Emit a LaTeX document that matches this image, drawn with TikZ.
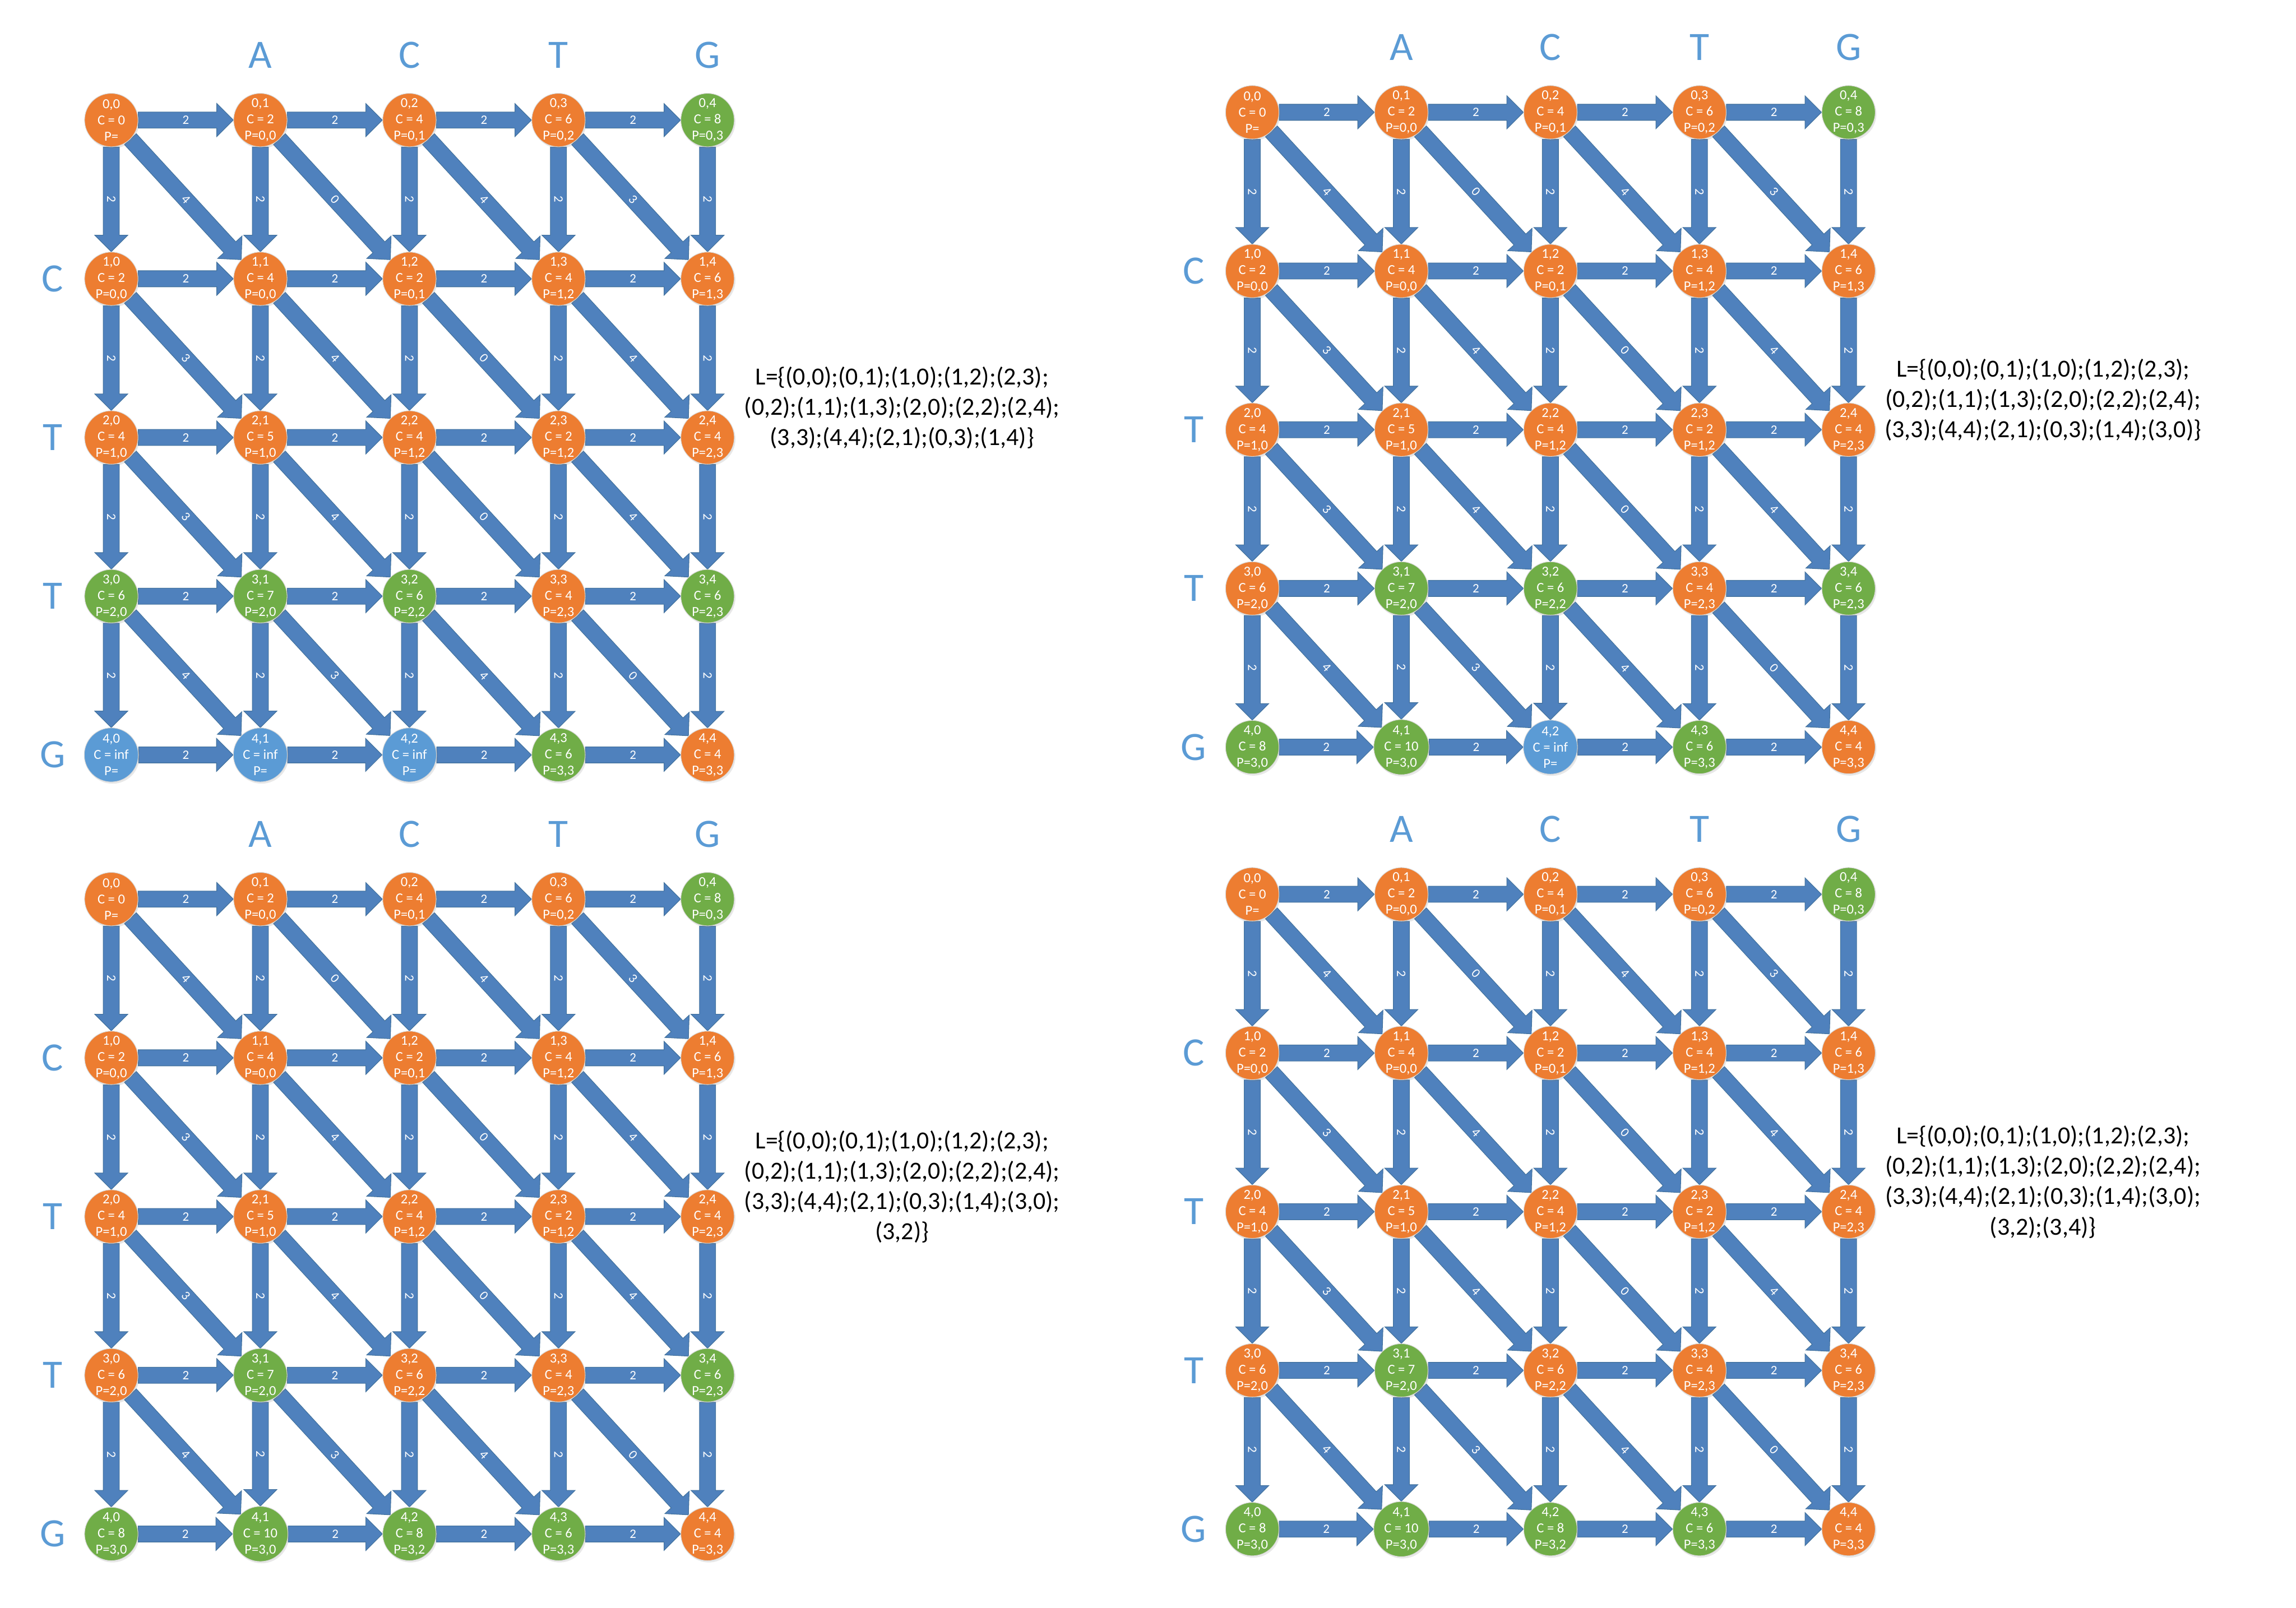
\documentclass[tikz,border=0pt]{standalone}
\usepackage{fontspec}
\setmainfont{Carlito}
\usetikzlibrary{calc,shadows}
\definecolor{colo}{HTML}{ED7D31}
\definecolor{colg}{HTML}{70AD47}
\definecolor{colb}{HTML}{5B9BD5}
\definecolor{arrowblue}{HTML}{4F81BD}
\definecolor{arrowedge}{HTML}{41719C}
\definecolor{letterblue}{HTML}{5B9BD5}
\pgfdeclarelayer{bg}
\pgfsetlayers{bg,main}
\tikzset{
  cell/.style={circle, minimum size=36.5pt, inner sep=0pt, text=white, align=center,
    font=\fontsize{9.4}{11.1}\selectfont, draw=black!15, line width=0.4pt,
    drop shadow={opacity=0.18, shadow xshift=0.8pt, shadow yshift=-1.2pt}},
  arrowbody/.style={fill=arrowblue, draw=arrowedge, line width=0.4pt},
  elabel/.style={text=white, inner sep=0pt, font=\fontsize{8.8}{10}\selectfont},
  seqletter/.style={text=letterblue, inner sep=0pt, font=\fontsize{27.5}{30}\selectfont},
  listtext/.style={text=black, align=center, inner sep=0pt, font=\fontsize{16.8}{20.7}\selectfont},
}
% block arrow from #1 to #2 with label #3
\newcommand\barrow[3]{%
  \path[arrowbody] let \p1=(#1), \p2=(#2),
      \n1={atan2(\y2-\y1,\x2-\x1)},
      \n2={veclen(\x2-\x1,\y2-\y1)-11.3} in
    ($(\p1)+(\n1+90:5.5)$) -- ($(\p1)+(\n1:\n2)+(\n1+90:5.5)$) --
    ($(\p1)+(\n1:\n2)+(\n1+90:11.3)$) -- (\p2) --
    ($(\p1)+(\n1:\n2)+(\n1-90:11.3)$) -- ($(\p1)+(\n1:\n2)+(\n1-90:5.5)$) --
    ($(\p1)+(\n1-90:5.5)$) -- cycle
    node[elabel, rotate=\n1] at ($(\p1)!0.5!(\p2)$) {#3};
}
% panel: #1 prefix, #2 x0, #3 y0 (downwards), #4 node list, #5 list text
\newcommand\panel[5]{%
  \foreach \ri/\rj/\rc/\rp/\rk in {#4} {%
    \node[cell, fill=col\rk] (#1-\ri-\rj) at ({#2+\rj*101.8},{-(#3+\ri*108.4)}) {\ri,\rj\\C = \rc\\P=\rp};
  }
  \foreach \sj/\sl in {1/A,2/C,3/T,4/G}
    \node[seqletter] (#1-top-\sj) at ({#2+\sj*101.8},{-(#3-44.3)}) {\sl};
  \foreach \si/\sl in {1/C,2/T,3/T,4/G}
    \node[seqletter] (#1-left-\si) at ({#2-40},{-(#3+\si*108.4)}) {\sl};
  \node[listtext] (#1-list) at ({#2+540},{-(#3+196.5)}) {#5};
  \begin{pgfonlayer}{bg}
    \foreach \hi in {0,...,4}
      \foreach \hj [count=\hjj from 1] in {0,...,3}
        {\barrow{#1-\hi-\hj.east}{#1-\hi-\hjj.west}{2}}
    \foreach \vi [count=\vii from 1] in {0,...,3}
      \foreach \vj in {0,...,4}
        {\barrow{#1-\vi-\vj.south}{#1-\vii-\vj.north}{2}}
    \foreach \di/\dj/\dw in {0/0/4,0/1/0,0/2/4,0/3/3,1/0/3,1/1/4,1/2/0,1/3/4,2/0/3,2/1/4,2/2/0,2/3/4,3/0/4,3/1/3,3/2/4,3/3/0}
      {\pgfmathtruncatemacro\dii{\di+1}\pgfmathtruncatemacro\djj{\dj+1}%
       \barrow{#1-\di-\dj.south east}{#1-\dii-\djj.north west}{\dw}}
  \end{pgfonlayer}
}
\begin{document}
\begin{tikzpicture}[x=1pt,y=1pt]
\begin{pgfonlayer}{bg}
\fill[white] (0,0) rectangle (1568,-1098);
\end{pgfonlayer}
\useasboundingbox (0,0) rectangle (1568,-1098);

\panel{a}{76}{82}{0/0/0/{}/o,0/1/2/{0,0}/o,0/2/4/{0,1}/o,0/3/6/{0,2}/o,0/4/8/{0,3}/g,%
1/0/2/{0,0}/o,1/1/4/{0,0}/o,1/2/2/{0,1}/o,1/3/4/{1,2}/o,1/4/6/{1,3}/o,%
2/0/4/{1,0}/o,2/1/5/{1,0}/o,2/2/4/{1,2}/o,2/3/2/{1,2}/o,2/4/4/{2,3}/o,%
3/0/6/{2,0}/g,3/1/7/{2,0}/g,3/2/6/{2,2}/g,3/3/4/{2,3}/o,3/4/6/{2,3}/g,%
4/0/inf/{}/b,4/1/inf/{}/b,4/2/inf/{}/b,4/3/6/{3,3}/g,4/4/4/{3,3}/o}%
{L=\{(0,0);(0,1);(1,0);(1,2);(2,3);\\(0,2);(1,1);(1,3);(2,0);(2,2);(2,4);\\(3,3);(4,4);(2,1);(0,3);(1,4)\}}

\panel{b}{855.2}{76.7}{0/0/0/{}/o,0/1/2/{0,0}/o,0/2/4/{0,1}/o,0/3/6/{0,2}/o,0/4/8/{0,3}/g,%
1/0/2/{0,0}/o,1/1/4/{0,0}/o,1/2/2/{0,1}/o,1/3/4/{1,2}/o,1/4/6/{1,3}/o,%
2/0/4/{1,0}/o,2/1/5/{1,0}/o,2/2/4/{1,2}/o,2/3/2/{1,2}/o,2/4/4/{2,3}/o,%
3/0/6/{2,0}/o,3/1/7/{2,0}/g,3/2/6/{2,2}/g,3/3/4/{2,3}/o,3/4/6/{2,3}/g,%
4/0/8/{3,0}/g,4/1/10/{3,0}/g,4/2/inf/{}/b,4/3/6/{3,3}/g,4/4/4/{3,3}/o}%
{L=\{(0,0);(0,1);(1,0);(1,2);(2,3);\\(0,2);(1,1);(1,3);(2,0);(2,2);(2,4);\\(3,3);(4,4);(2,1);(0,3);(1,4);(3,0)\}}

\panel{c}{76}{614.1}{0/0/0/{}/o,0/1/2/{0,0}/o,0/2/4/{0,1}/o,0/3/6/{0,2}/o,0/4/8/{0,3}/g,%
1/0/2/{0,0}/o,1/1/4/{0,0}/o,1/2/2/{0,1}/o,1/3/4/{1,2}/o,1/4/6/{1,3}/o,%
2/0/4/{1,0}/o,2/1/5/{1,0}/o,2/2/4/{1,2}/o,2/3/2/{1,2}/o,2/4/4/{2,3}/o,%
3/0/6/{2,0}/o,3/1/7/{2,0}/g,3/2/6/{2,2}/o,3/3/4/{2,3}/o,3/4/6/{2,3}/g,%
4/0/8/{3,0}/g,4/1/10/{3,0}/g,4/2/8/{3,2}/g,4/3/6/{3,3}/g,4/4/4/{3,3}/o}%
{L=\{(0,0);(0,1);(1,0);(1,2);(2,3);\\(0,2);(1,1);(1,3);(2,0);(2,2);(2,4);\\(3,3);(4,4);(2,1);(0,3);(1,4);(3,0);\\(3,2)\}}

\panel{d}{855.2}{610.8}{0/0/0/{}/o,0/1/2/{0,0}/o,0/2/4/{0,1}/o,0/3/6/{0,2}/o,0/4/8/{0,3}/g,%
1/0/2/{0,0}/o,1/1/4/{0,0}/o,1/2/2/{0,1}/o,1/3/4/{1,2}/o,1/4/6/{1,3}/o,%
2/0/4/{1,0}/o,2/1/5/{1,0}/o,2/2/4/{1,2}/o,2/3/2/{1,2}/o,2/4/4/{2,3}/o,%
3/0/6/{2,0}/o,3/1/7/{2,0}/g,3/2/6/{2,2}/o,3/3/4/{2,3}/o,3/4/6/{2,3}/o,%
4/0/8/{3,0}/g,4/1/10/{3,0}/g,4/2/8/{3,2}/g,4/3/6/{3,3}/g,4/4/4/{3,3}/o}%
{L=\{(0,0);(0,1);(1,0);(1,2);(2,3);\\(0,2);(1,1);(1,3);(2,0);(2,2);(2,4);\\(3,3);(4,4);(2,1);(0,3);(1,4);(3,0);\\(3,2);(3,4)\}}
\end{tikzpicture}
\end{document}
